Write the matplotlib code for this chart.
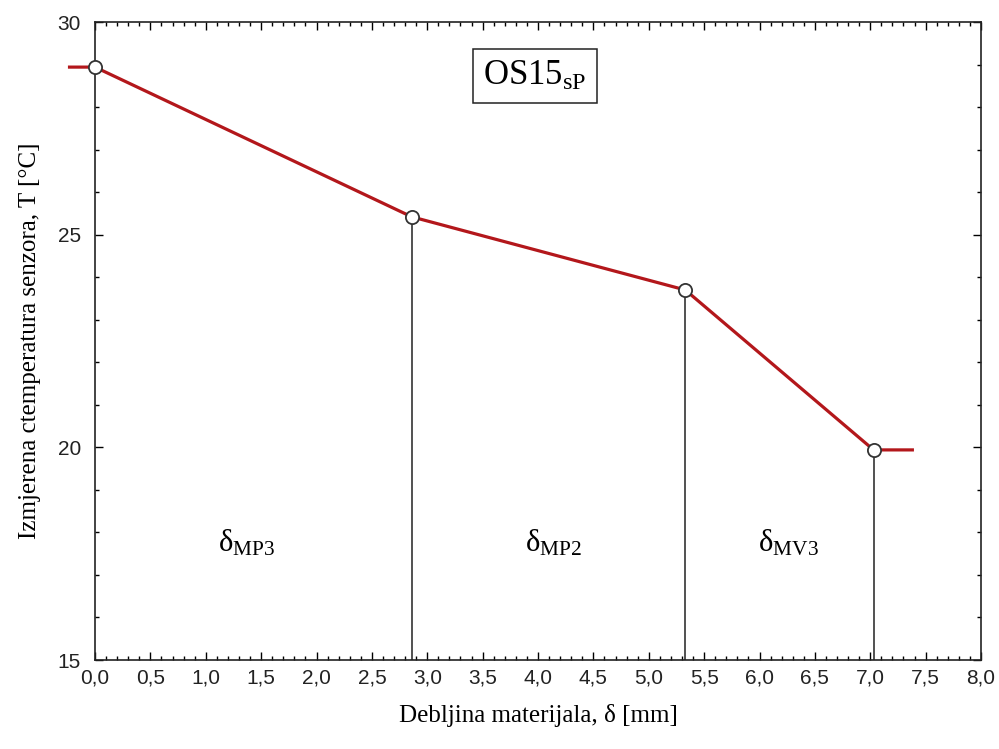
import matplotlib
matplotlib.use("Agg")
import matplotlib.pyplot as plt
from matplotlib.ticker import MultipleLocator, FuncFormatter

# measured curve (the ends run out past the axes a little)
thickness = [-0.23, 0.0, 2.86, 5.33, 7.03, 7.38]
temperature = [28.94, 28.94, 25.42, 23.70, 19.94, 19.94]

# measured points (circles) and the layer boundaries
point_x = [0.0, 2.86, 5.33, 7.03]
point_y = [28.94, 25.42, 23.70, 19.94]
boundary_x = [2.86, 5.33, 7.03]
boundary_top = [25.42, 23.70, 19.94]

zone_labels = ["MP3", "MP2", "MV3"]
zone_x = [1.37, 4.14, 6.26]
zone_y = 17.75

plt.rcParams["font.family"] = ["Liberation Serif", "DejaVu Serif"]

fig = plt.figure(figsize=(9.99, 7.49), dpi=100)
ax = fig.add_axes([0.0951, 0.1188, 0.8869, 0.8518])

ax.set_xlim(0, 8)
ax.set_ylim(15, 30)

for bx, by in zip(boundary_x, boundary_top):
    ax.plot([bx, bx], [15, by], color="#222222", lw=1.1, zorder=2)

ax.plot(thickness, temperature, color="#b3171b", lw=2.3, clip_on=False, zorder=3)
ax.plot(point_x, point_y, linestyle="none", marker="o", markersize=9.5,
        markerfacecolor="white", markeredgecolor="#333333", markeredgewidth=1.3,
        clip_on=False, zorder=4)

for name, zx in zip(zone_labels, zone_x):
    ax.text(zx, zone_y, r"$\mathregular{δ_{%s}}$" % name, fontsize=22,
            ha="center", va="center")

ax.text(3.97, 28.72, r"OS15$\mathregular{_{sP}}$", fontsize=25, ha="center", va="center",
        bbox=dict(boxstyle="square,pad=0.3", facecolor="white", edgecolor="#222222", lw=1.1))

ax.xaxis.set_major_locator(MultipleLocator(0.5))
ax.xaxis.set_minor_locator(MultipleLocator(0.1))
ax.yaxis.set_major_locator(MultipleLocator(5))
ax.yaxis.set_minor_locator(MultipleLocator(1))
ax.xaxis.set_major_formatter(FuncFormatter(lambda v, p: f"{v:.1f}".replace(".", ",")))
ax.yaxis.set_major_formatter(FuncFormatter(lambda v, p: f"{v:.0f}"))

ax.tick_params(which="both", direction="in", top=True, right=True, width=1.0)
ax.tick_params(which="major", length=6)
ax.tick_params(which="minor", length=3)
ax.tick_params(axis="x", which="major", pad=6)
ax.tick_params(axis="y", which="major", pad=10)
for lab in ax.get_xticklabels() + ax.get_yticklabels():
    lab.set_family("Liberation Sans")
    lab.set_fontsize(15)
    lab.set_color("#222222")

for sp in ax.spines.values():
    sp.set_linewidth(1.2)
    sp.set_color("#222222")

ax.set_xlabel("Debljina materijala, δ [mm]", fontsize=18, labelpad=12)
ax.set_ylabel("Izmjerena ctemperatura senzora, T [°C]", fontsize=18, labelpad=12)

fig.savefig("out.png", dpi=100)
